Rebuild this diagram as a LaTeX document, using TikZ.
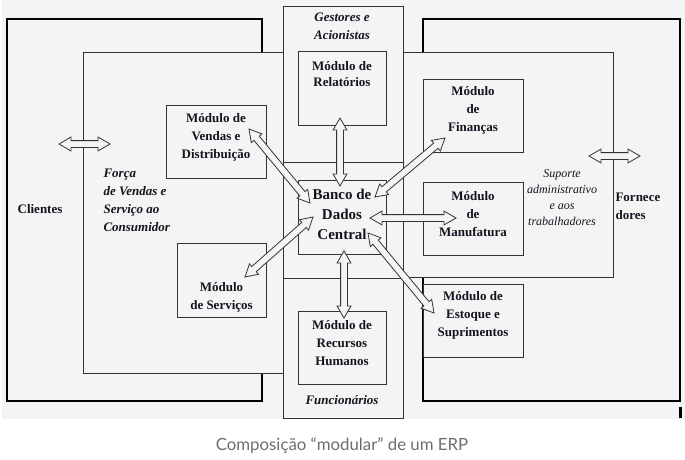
\documentclass[tikz,border=0pt]{standalone}
\usepackage{fontspec}
\setmainfont{Liberation Serif}
\newfontfamily\capfont{Lato}
\usetikzlibrary{shapes.arrows,calc}

\definecolor{paper}{HTML}{F4F4F4}
\definecolor{ink}{HTML}{333333}
\definecolor{txt}{HTML}{141420}
\definecolor{capgray}{HTML}{6E6E6E}

% hollow double arrow between two points
\newcommand\erparrow[2]{%
  \path let \p1=(#1), \p2=(#2),
    \n1={atan2(\y2-\y1,\x2-\x1)}, \n2={veclen(\x2-\x1,\y2-\y1)} in
    node[dblarrow, minimum height=\n2, rotate=\n1] at ($(\p1)!0.5!(\p2)$) {};}

\begin{document}
\begin{tikzpicture}[x=1pt, y=-1pt,
    region/.style={draw=ink, line width=0.9pt, fill=paper},
    outer/.style={draw=black, line width=1.3pt, fill=paper},
    modbox/.style={draw=ink, line width=0.9pt, fill=paper, minimum width=100pt,
        minimum height=73pt, inner sep=0pt, outer sep=0pt},
    modtext/.style={align=center, text=txt, font=\bfseries\fontsize{13}{18}\selectfont},
    tag/.style={align=center, text=txt, font=\bfseries\itshape\fontsize{13}{18}\selectfont},
    dblarrow/.style={double arrow, draw=ink, line width=0.8pt, fill=paper,
        inner xsep=0pt, inner ysep=3pt, minimum width=0pt,
        double arrow head extend=3.5pt, double arrow tip angle=60},
]
    \useasboundingbox (0,0) rectangle (685,459);
    \fill[paper] (2,0) rectangle (685,419);

    % regions
    \draw[outer] (7,19) rectangle (262,401);
    \draw[outer] (423,19) rectangle (680,401);
    \draw[region] (83,52) rectangle (283,373);
    \draw[region] (403,52) rectangle (613,277);
    \draw[region] (283,6) rectangle (403,162);
    \draw[region] (283,162) rectangle (403,278);
    \draw[region] (283,278) rectangle (403,418);
    \fill[black] (679,407) rectangle (681.5,418);

    % modules
    \node[modbox, minimum width=88pt, minimum height=74pt] (rel) at (342,88) {};
    \node[modbox] (vend) at (216,142) {};
    \node[modbox, minimum width=88pt, minimum height=74pt] (banco) at (342,217) {};
    \node[modbox, minimum width=89pt, minimum height=74pt] (serv) at (221.5,280) {};
    \node[modbox, minimum width=88pt] (rh) at (342,347.5) {};
    \node[modbox] (fin) at (473,115.5) {};
    \node[modbox] (manuf) at (473,218.5) {};
    \node[modbox] (est) at (473,320.5) {};

    % arrows
    \coordinate (cli-a) at (59,144);
    \coordinate (cli-b) at (110,144);
    \coordinate (forn-a) at (589,156);
    \coordinate (forn-b) at (640,156);
    \erparrow{cli-a}{cli-b}
    \erparrow{forn-a}{forn-b}
    \erparrow{$(rel)+(-2,30)$}{$(banco)+(-2,-31)$}
    \erparrow{$(rh)+(2,-29.5)$}{$(banco)+(2,34)$}
    \erparrow{$(vend)+(33,-13)$}{$(banco)+(-32,-14)$}
    \erparrow{$(serv)+(23.5,-3)$}{$(banco)+(-29,0)$}
    \erparrow{$(fin)+(-28,22.5)$}{$(banco)+(33,-20)$}
    \erparrow{$(manuf)+(-17,-0.5)$}{$(banco)+(28,1)$}
    \erparrow{$(est)+(-39,-7.5)$}{$(banco)+(26,16)$}

    % texts
    \node[modtext, font=\bfseries\fontsize{13}{16.5}\selectfont] (rel-t) at ($(rel)+(0,-14)$) {Módulo de\\Relatórios};
    \node[modtext] (vend-t) at ($(vend)+(0,-5)$) {Módulo de\\Vendas e\\Distribuição};
    \node[modtext, font=\bfseries\fontsize{15}{20}\selectfont] (banco-t) at ($(banco)+(0,-3)$) {Banco de\\Dados\\Central};
    \node[modtext] (serv-t) at ($(serv)+(0,17)$) {Módulo\\de Serviços};
    \node[modtext] (rh-t) at ($(rh)+(0,-4)$) {Módulo de\\Recursos\\Humanos};
    \node[modtext] (fin-t) at ($(fin)+(0,-5)$) {Módulo\\de\\Finanças};
    \node[modtext] (manuf-t) at ($(manuf)+(0,-4)$) {Módulo\\de\\Manufatura};
    \node[modtext] (est-t) at ($(est)+(0,-5)$) {Módulo de\\Estoque e\\Suprimentos};

    \node[tag] (gest) at (342,26) {Gestores e\\Acionistas};
    \node[tag] (func) at (342,400) {Funcionários};
    \node[tag, align=left, anchor=west] (forca) at (100,200) {Força\\de Vendas e\\Serviço ao\\Consumidor};
    \node[align=center, text=txt, font=\itshape\fontsize{12}{16}\selectfont] (sup) at (562,198)
        {Suporte\\administrativo\\e aos\\trabalhadores};
    \node[modtext] (cli) at (40,209) {Clientes};
    \node[modtext, align=left, anchor=west] (forn) at (612,206) {Fornece\\dores};

    \node[font=\capfont\fontsize{16.8}{20}\selectfont, text=capgray] (cap) at (342,446)
        {Composição “modular” de um ERP};
\end{tikzpicture}
\end{document}
